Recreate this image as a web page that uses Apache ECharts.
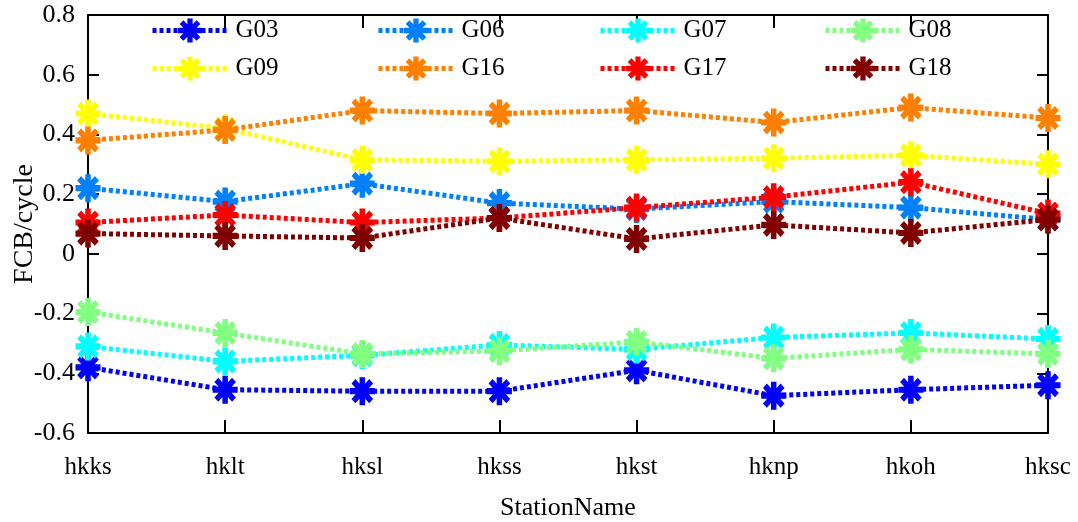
<!DOCTYPE html>
<html>
<head>
<meta charset="utf-8">
<script src="https://cdn.jsdelivr.net/npm/echarts@6/dist/echarts.min.js"></script>
<style>html,body{margin:0;padding:0;background:#fff;}#c{width:1078px;height:522px;}</style>
</head>
<body>
<div id="c"></div>
<script>
var categories = ['hkks','hklt','hksl','hkss','hkst','hknp','hkoh','hksc'];
var yTicks = [-0.6,-0.4,-0.2,0,0.2,0.4,0.6,0.8];
var seriesNames = ['G03','G06','G07','G08','G09','G16','G17','G18'];
var G03 = [-0.38,-0.455,-0.46,-0.46,-0.39,-0.475,-0.455,-0.44];
var G06 = [0.22,0.175,0.235,0.17,0.15,0.175,0.155,0.115];
var G07 = [-0.31,-0.36,-0.34,-0.305,-0.32,-0.28,-0.265,-0.285];
var G08 = [-0.195,-0.265,-0.335,-0.325,-0.295,-0.35,-0.32,-0.335];
var G09 = [0.47,0.42,0.315,0.31,0.315,0.32,0.33,0.30];
var G16 = [0.38,0.415,0.48,0.47,0.48,0.44,0.49,0.455];
var G17 = [0.105,0.13,0.105,0.12,0.155,0.19,0.24,0.135];
var G18 = [0.068,0.06,0.053,0.12,0.05,0.097,0.07,0.115];
var seriesData = [G03,G06,G07,G08,G09,G16,G17,G18];
var colors = ['#0000FF','#0080FF','#00FFFF','#80FF80','#FFFF00','#FF8000','#FF0000','#800000'];

// asterisk marker path built from 4 rotated bars
function asteriskPath(){
  var L = 50, T = 11, s = '';
  [0,45,90,135].forEach(function(a){
    var r = a*Math.PI/180, c = Math.cos(r), sn = Math.sin(r);
    var pts = [[-L,-T],[L,-T],[L,T],[-L,T]].map(function(p){
      return [(p[0]*c - p[1]*sn + 60).toFixed(2), (p[0]*sn + p[1]*c + 60).toFixed(2)];
    });
    s += 'M' + pts[0].join(' ') + 'L' + pts[1].join(' ') + 'L' + pts[2].join(' ') + 'L' + pts[3].join(' ') + 'Z';
  });
  return 'path://' + s;
}
var star = asteriskPath();
var font = 'Liberation Serif';

var series = seriesNames.map(function(n,i){
  return {
    name: n, type: 'line', data: seriesData[i], xAxisIndex: 0, yAxisIndex: 0,
    symbol: star, symbolSize: [25,28], showSymbol: true,
    itemStyle: {color: colors[i]},
    lineStyle: {color: colors[i], width: 5, type: [4,3]},
    emphasis: {disabled: true}, animation: false, z: 2+i
  };
});

var legendCols = [[ 'G03','G09'],['G06','G16'],['G07','G17'],['G08','G18']];
var legendLefts = [150, 376, 598, 823];
var legends = legendCols.map(function(d,i){
  return {
    data: d, orient: 'vertical', left: legendLefts[i], top: 18, padding: 0,
    itemWidth: 75, itemHeight: 30, itemGap: 13,
    lineStyle: {width: 5},
    textStyle: {fontFamily: font, fontSize: 25, color: '#000', padding: [0,0,0,3]},
    selectedMode: false
  };
});

var line = {show: true, onZero: false, lineStyle: {color: '#000', width: 2}};
function yFmt(v){ var r = Math.round(v*10)/10; return r === 0 ? '0' : String(r); }

var chart = echarts.init(document.getElementById('c'));
chart.setOption({
  animation: false,
  legend: legends,
  grid: {left: 88, right: 30, top: 15, bottom: 89, containLabel: false, outerBoundsMode: 'none'},
  xAxis: [{
    type: 'category', data: categories, boundaryGap: false, position: 'bottom',
    axisLine: line,
    axisTick: {show: true, inside: true, length: 13, interval: 0, lineStyle: {color: '#000', width: 2}},
    axisLabel: {fontFamily: font, fontSize: 25, color: '#000', margin: 22, interval: 0},
    name: 'StationName', nameLocation: 'middle', nameGap: 62, nameMoveOverlap: false,
    nameTextStyle: {fontFamily: font, fontSize: 26, color: '#000'},
    splitLine: {show: false}
  },{
    type: 'category', data: categories, boundaryGap: false, position: 'top',
    axisLine: line,
    axisTick: {show: true, inside: true, length: 13, interval: 0, lineStyle: {color: '#000', width: 2}},
    axisLabel: {show: false}, splitLine: {show: false}
  }],
  yAxis: [{
    type: 'value', min: -0.6, max: 0.8, interval: 0.2, position: 'left',
    axisLine: line,
    axisTick: {show: true, inside: true, length: 11, lineStyle: {color: '#000', width: 2}},
    axisLabel: {fontFamily: font, fontSize: 26, color: '#000', margin: 13, formatter: yFmt},
    name: 'FCB/cycle', nameLocation: 'middle', nameGap: 49, nameMoveOverlap: false,
    nameTextStyle: {fontFamily: font, fontSize: 28, color: '#000'},
    splitLine: {show: false}
  },{
    type: 'value', min: -0.6, max: 0.8, interval: 0.2, position: 'right',
    axisLine: line,
    axisTick: {show: true, inside: true, length: 11, lineStyle: {color: '#000', width: 2}},
    axisLabel: {show: false}, splitLine: {show: false}
  }],
  series: series
});
</script>
</body>
</html>
